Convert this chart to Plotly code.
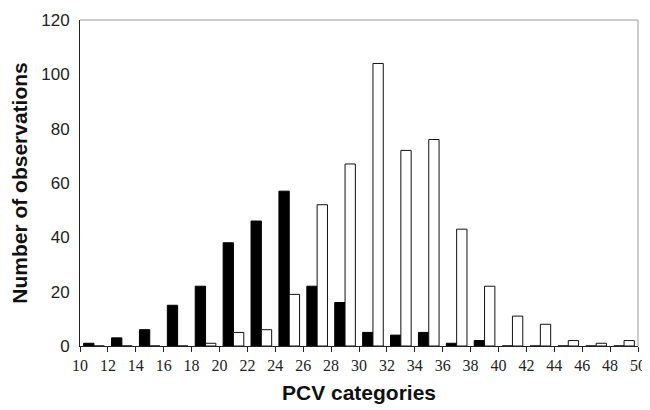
import plotly.graph_objects as go

# PCV category midpoints (bins 10-12, 12-14, ..., 48-50)
categories = [11, 13, 15, 17, 19, 21, 23, 25, 27, 29, 31, 33, 35, 37, 39, 41, 43, 45, 47, 49]
black_values = [1, 3, 6, 15, 22, 38, 46, 57, 22, 16, 5, 4, 5, 1, 2, 0, 0, 0, 0, 0]
white_values = [0, 0, 0, 0, 1, 5, 6, 19, 52, 67, 104, 72, 76, 43, 22, 11, 8, 2, 1, 2]
x_ticks = list(range(10, 51, 2))
y_ticks = [0, 20, 40, 60, 80, 100, 120]

fig = go.Figure()
fig.add_trace(go.Bar(x=categories, y=black_values, marker=dict(color="black", line=dict(color="black", width=1)),
                     showlegend=False))
fig.add_trace(go.Bar(x=categories, y=white_values, marker=dict(color="white", line=dict(color="#111", width=1)),
                     showlegend=False))

fig.update_layout(
    template="none",
    width=650, height=402,
    margin=dict(l=72, r=20, t=12, b=64, autoexpand=False),
    plot_bgcolor="white", paper_bgcolor="white",
    barmode="group", bargap=0.26, bargroupgap=0,
    xaxis=dict(range=[10, 50], tickvals=x_ticks, ticktext=[str(v) for v in x_ticks], automargin=False,
               ticks="outside", ticklen=5, tickcolor="#222", tickwidth=1, ticklabeloverflow="allow",
               showline=True, linecolor="#222", linewidth=1, showgrid=False, zeroline=False,
               tickfont=dict(family="Liberation Serif", size=16, color="#222"),
               title=dict(text="<b>PCV categories</b>", standoff=12,
                          font=dict(family="Liberation Sans", size=21, color="#111"))),
    yaxis=dict(range=[0, 120], tickvals=y_ticks, ticks="outside", ticklen=6, tickcolor="rgba(0,0,0,0)",
               showline=True, linecolor="#222", linewidth=1, automargin=False, ticklabeloverflow="allow",
               showgrid=False, zeroline=False,
               tickfont=dict(family="Liberation Sans", size=17, color="#222"),
               title=dict(text="<b>Number of observations</b>", standoff=7,
                          font=dict(family="Liberation Sans", size=21, color="#111"))),
    shapes=[
        dict(type="line", xref="paper", yref="paper", x0=0, x1=1, y0=1, y1=1, line=dict(color="#bbbbbb", width=1.5)),
        dict(type="line", xref="paper", yref="paper", x0=1, x1=1, y0=0, y1=1, line=dict(color="#bbbbbb", width=1.5)),
    ],
)

fig.write_html("out.html")
